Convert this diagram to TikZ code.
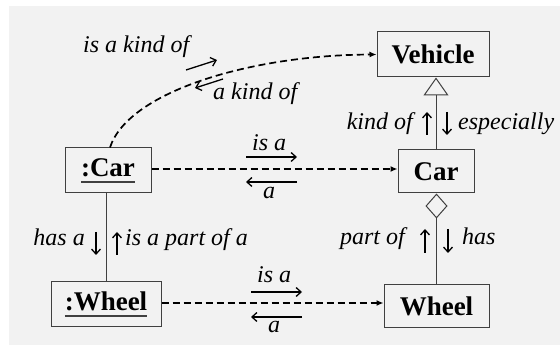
\documentclass[tikz,border=0pt]{standalone}
\usepackage{fontspec}
\setmainfont{Liberation Serif}
\usetikzlibrary{arrows.meta}
\definecolor{panel}{HTML}{F2F2F2}
\definecolor{edge}{HTML}{404040}
% instance names: text with a heavy rule beneath it
\newcommand\instname[1]{\setbox0\hbox{#1}\rlap{\color{edge}\rule[-6.5pt]{\wd0}{1.8pt}}\box0}

\begin{document}
\begin{tikzpicture}[x=1pt,y=-1pt,
  box/.style={draw=edge, line width=1pt, inner sep=0pt,
    font=\fontsize{27}{30}\selectfont\bfseries},
  lbl/.style={font=\fontsize{24}{27}\selectfont\itshape, inner sep=0pt},
  dep/.style={line width=1.7pt, dash pattern=on 7pt off 4pt,
    -{Latex[length=7pt,width=6pt]}},
  pt/.style={line width=1.3pt, -{Straight Barb[length=5pt,width=9pt]}},
  link/.style={draw=edge, line width=1pt}
]
% canvas and panel
\fill[white] (0,0) rectangle (560,347);
\fill[panel] (9,6) rectangle (560,345);
\useasboundingbox (0,0) rectangle (560,347);

% classes and instances
\node[box, minimum width=112pt, minimum height=45pt] (veh) at (433,54.5) {Vehicle};
\node[box, minimum width=76pt, minimum height=43pt] (car) at (436,171.5) {Car};
\node[box, minimum width=105pt, minimum height=43pt] (whl) at (436.5,306.5) {Wheel};
\node[box, minimum width=86pt, minimum height=45pt] (icar) at (108,170.5) {\instname{:Car}};
\node[box, minimum width=110pt, minimum height=45pt] (iwhl) at (106,304.5) {\instname{:Wheel}};

% generalisation and aggregation
\draw[link, -{Triangle[open, length=18pt, width=25pt]}] (car.north) -- (car.north |- veh.south);
\draw[link, -{Diamond[open, length=25pt, width=22pt]}] (whl.north) -- (whl.north |- car.south);
\draw[link] (iwhl.north) -- (iwhl.north |- icar.south);

% instance-of dependencies
\draw[dep] ([yshift=1.5pt]icar.east) -- ([yshift=1.5pt]icar.east -| car.west);
\draw[dep] ([yshift=1.5pt]iwhl.east) -- ([yshift=1.5pt]iwhl.east -| whl.west);
\draw[dep] ([xshift=2pt]icar.north) .. controls (128,92) and (250,55) .. (veh.west);

% reading direction arrows
\coordinate (k1a) at (186,70);  \coordinate (k1b) at (217,60);
\coordinate (k2a) at (223,79);  \coordinate (k2b) at (195,88);
\coordinate (r1a) at (246,157); \coordinate (r1b) at (297,157);
\coordinate (r2a) at (297,182); \coordinate (r2b) at (246,182);
\coordinate (r3a) at (251,292); \coordinate (r3b) at (302,292);
\coordinate (r4a) at (302,317); \coordinate (r4b) at (251,317);
\coordinate (v1a) at (427,135); \coordinate (v1b) at (427,112);
\coordinate (v2a) at (447,112); \coordinate (v2b) at (447,135);
\coordinate (v3a) at (425,253); \coordinate (v3b) at (425,229);
\coordinate (v4a) at (448,229); \coordinate (v4b) at (448,253);
\coordinate (v5a) at (96,232);  \coordinate (v5b) at (96,255);
\coordinate (v6a) at (117,255); \coordinate (v6b) at (117,232);
\foreach \p in {k1,k2,r1,r2,r3,r4,v1,v2,v3,v4,v5,v6}
  \draw[pt] (\p a) -- (\p b);

% labels
\node[lbl, anchor=base west] (t1) at (83,53) {is a kind of};
\node[lbl, anchor=base west] (t2) at (213,100) {a kind of};
\node[lbl, anchor=base west] (t3) at (252,151) {is a};
\node[lbl, anchor=base west] (t4) at (263,199) {a};
\node[lbl, anchor=base west] (t5) at (257,283) {is a};
\node[lbl, anchor=base west] (t6) at (268,333) {a};
\node[lbl, anchor=base east] (t7) at (413,130) {kind of};
\node[lbl, anchor=base west] (t8) at (458,130) {especially};
\node[lbl, anchor=base east] (t9) at (405,245) {part of};
\node[lbl, anchor=base west] (t10) at (462,245) {has};
\node[lbl, anchor=base east] (t11) at (85,246) {has a};
\node[lbl, anchor=base west] (t12) at (125,246) {is a part of a};
\end{tikzpicture}
\end{document}
